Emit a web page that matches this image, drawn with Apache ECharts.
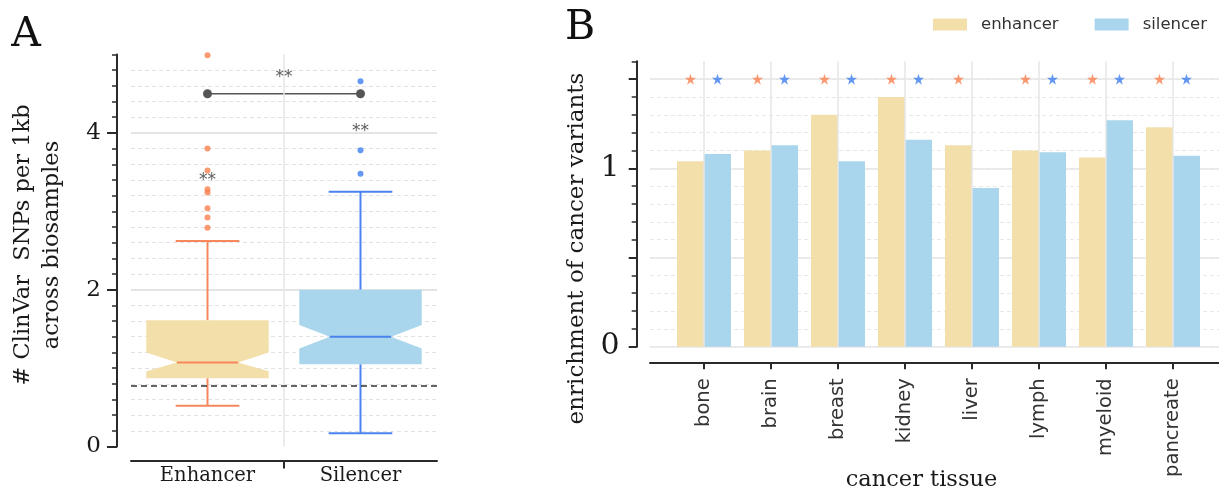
<!DOCTYPE html>
<html><head><meta charset="utf-8">
<script src="https://cdn.jsdelivr.net/npm/echarts@6/dist/echarts.min.js"></script>
<style>html,body{margin:0;padding:0;background:#fff}#c{width:1219px;height:491px}</style>
</head><body><div id="c"></div>
<script>
// ---------- Panel A data ----------
const boxCategories = ['Enhancer', 'Silencer'];
// [whiskerLow, q1, notchLow, median, notchHigh, q3, whiskerHigh]
const enhancerBox = [0.52, 0.87, 0.96, 1.07, 1.20, 1.61, 2.62];
const silencerBox = [0.17, 1.05, 1.25, 1.40, 1.55, 2.00, 3.25];
const enhancerOutliers = [2.79, 2.92, 3.04, 3.24, 3.28, 3.52, 3.80, 4.99];
const silencerOutliers = [3.48, 3.78, 4.66];
const baselineValue = 0.77;
const bracketValue = 4.5;
const sigTexts = ['**', '**', '**'];
const sigX = [0.5, 1.5, 1.0];
const sigLevels = [3.44, 4.07, 4.76];
const boxTicks = [0, 2, 4];

// ---------- Panel B data ----------
const tissues = ['bone', 'brain', 'breast', 'kidney', 'liver', 'lymph', 'myeloid', 'pancreate'];
const enhancerEnrich = [1.04, 1.10, 1.30, 1.40, 1.13, 1.10, 1.06, 1.23];
const silencerEnrich = [1.08, 1.13, 1.04, 1.16, 0.89, 1.09, 1.27, 1.07];
const enhancerSig = [1, 1, 1, 1, 1, 1, 1, 1];
const silencerSig = [1, 1, 1, 1, 0, 1, 1, 1];
const starLevel = 1.5;
const enrichMajorTicks = [0, 0.5, 1, 1.5];
const enrichLabels = [0, 1];

// ---------- styles ----------
const SERIF = 'DejaVu Serif';
const SANS = 'DejaVu Sans';
const enhFill = '#F2DFAA', silFill = '#A9D6EC';
const enhLine = '#F8875C', silLine = '#4A82EE';
const enhDot = '#FA7F4E', silDot = '#3F7EF0';
const axisCol = '#2a2a2a';
const STAR = 'path://M50,2 L61.2,36.6 L97.6,36.6 L68.2,58 L79.4,92.6 L50,71.2 L20.6,92.6 L31.8,58 L2.4,36.6 L38.8,36.6 Z';

const chart = echarts.init(document.getElementById('c'));

const boxData = [[0.5].concat(enhancerBox), [1.5].concat(silencerBox)];

const option = {
  animation: false,
  backgroundColor: '#fff',
  grid: [
    { left: 131, top: 54.5, width: 306, height: 392 },
    { left: 650, top: 61.3, right: 0, height: 285.4 }
  ],
  legend: {
    data: ['enhancer', 'silencer'], left: 933, top: 16, padding: 0,
    itemWidth: 34, itemHeight: 12, itemGap: 36, icon: 'rect', selectedMode: false,
    textStyle: { fontFamily: SANS, fontSize: 16.5, color: '#333', padding: [0, 0, 0, 9] }
  },
  xAxis: [
    { gridIndex: 0, type: 'value', min: 0, max: 2, interval: 1, offset: 14,
      axisLine: { show: true, onZero: false, lineStyle: { color: axisCol, width: 2 } },
      axisTick: { show: true, customValues: [1], length: 8, lineStyle: { color: axisCol, width: 2 } },
      axisLabel: { customValues: [0.5, 1.5], formatter: v => boxCategories[Math.floor(v)] || '',
        fontFamily: SERIF, fontSize: 19.5, color: '#1a1a1a', margin: 5 },
      splitLine: { show: false } },
    { gridIndex: 1, type: 'value', min: -0.806, max: 7.687, offset: 15.6,
      axisLine: { show: true, onZero: false, lineStyle: { color: axisCol, width: 2 } },
      axisTick: { show: true, customValues: tissues.map((t, i) => i), length: 7, lineStyle: { color: axisCol, width: 2 } },
      axisLabel: { customValues: tissues.map((t, i) => i), formatter: v => tissues[v] || '', rotate: 90,
        fontFamily: SANS, fontSize: 19.5, color: '#333', margin: 16 },
      splitLine: { show: false } }
  ],
  yAxis: [
    { gridIndex: 0, type: 'value', position: 'left', min: 0, max: 5, interval: 0.2, offset: 14,
      axisLine: { show: true, onZero: false, lineStyle: { color: axisCol, width: 2 } },
      axisTick: { show: true, length: 5, lineStyle: { color: axisCol, width: 1.5 } },
      axisLabel: { show: false },
      splitLine: { show: true, showMinLine: false, showMaxLine: false, lineStyle: { color: '#e2e2e2', width: 1, type: [4, 3] } } },
    { gridIndex: 0, type: 'value', position: 'left', min: 0, max: 5, interval: 2, offset: 14,
      axisLine: { show: false, onZero: false },
      axisTick: { show: true, customValues: boxTicks, length: 10, lineStyle: { color: axisCol, width: 2 } },
      axisLabel: { customValues: boxTicks, formatter: v => boxTicks.includes(v) ? String(v) : '',
        fontFamily: SERIF, fontSize: 23, color: '#1a1a1a', margin: 16 },
      splitLine: { show: false } },
    { gridIndex: 0, type: 'value', position: 'left', min: 0, max: 5, interval: 2,
      axisLine: { show: false, onZero: false }, axisTick: { show: false }, axisLabel: { show: false },
      splitLine: { show: true, showMinLine: false, showMaxLine: false, lineStyle: { color: '#e4e4e4', width: 2 } } },
    { gridIndex: 1, type: 'value', position: 'left', min: 0, max: 1.6, interval: 0.1, offset: 13.3,
      axisLine: { show: true, onZero: false, lineStyle: { color: axisCol, width: 2 } },
      axisTick: { show: true, length: 5, lineStyle: { color: axisCol, width: 1.5 } },
      axisLabel: { show: false },
      splitLine: { show: true, showMinLine: true, showMaxLine: false, lineStyle: { color: '#e8e8e8', width: 1, type: [4, 3] } } },
    { gridIndex: 1, type: 'value', position: 'left', min: 0, max: 1.6, interval: 0.5, offset: 13.3,
      axisLine: { show: false, onZero: false },
      axisTick: { show: true, customValues: enrichMajorTicks, length: 8, lineStyle: { color: axisCol, width: 2 } },
      axisLabel: { customValues: enrichLabels, formatter: v => enrichLabels.includes(v) ? String(v) : '',
        fontFamily: SERIF, fontSize: 30, color: '#1a1a1a', margin: 17 },
      splitLine: { show: false } },
    { gridIndex: 1, type: 'value', position: 'left', min: 0, max: 1.6, interval: 0.5,
      axisLine: { show: false, onZero: false }, axisTick: { show: false }, axisLabel: { show: false },
      splitLine: { show: true, showMinLine: true, showMaxLine: false, lineStyle: { color: '#e6e6e6', width: 1.5 } } }
  ],
  series: [
    // ----- Panel A -----
    { name: 'refA', type: 'line', xAxisIndex: 0, yAxisIndex: 0, data: [], z: 1, silent: true,
      markLine: { silent: true, symbol: 'none', label: { show: false },
        data: [
          { xAxis: 1, lineStyle: { color: '#e6e6e6', width: 1.5, type: 'solid' } },
          { yAxis: baselineValue, lineStyle: { color: '#333', width: 1.5, type: [6, 4] } }
        ] } },
    { name: 'boxes', type: 'custom', xAxisIndex: 0, yAxisIndex: 0, z: 3,
      encode: { x: 0, y: [1, 2, 3, 4, 5, 6, 7] },
      data: boxData,
      renderItem: (params, api) => {
        const x = api.value(0);
        const wl = api.value(1), q1 = api.value(2), nl = api.value(3), med = api.value(4),
              nh = api.value(5), q3 = api.value(6), wh = api.value(7);
        const half = api.size([0.8, 0])[0] / 2;
        const nHalf = half * 0.5, cHalf = half * 0.52;
        const cx = api.coord([x, med])[0];
        const Y = v => api.coord([x, v])[1];
        const fill = params.dataIndex === 0 ? enhFill : silFill;
        const stroke = params.dataIndex === 0 ? enhLine : silLine;
        const ls = { stroke: stroke, lineWidth: 2 };
        const pts = [[cx - half, Y(q3)], [cx + half, Y(q3)], [cx + half, Y(nh)], [cx + nHalf, Y(med)],
          [cx + half, Y(nl)], [cx + half, Y(q1)], [cx - half, Y(q1)], [cx - half, Y(nl)],
          [cx - nHalf, Y(med)], [cx - half, Y(nh)]];
        return { type: 'group', children: [
          { type: 'line', shape: { x1: cx, y1: Y(q3), x2: cx, y2: Y(wh) }, style: ls },
          { type: 'line', shape: { x1: cx - cHalf, y1: Y(wh), x2: cx + cHalf, y2: Y(wh) }, style: ls },
          { type: 'line', shape: { x1: cx, y1: Y(q1), x2: cx, y2: Y(wl) }, style: ls },
          { type: 'line', shape: { x1: cx - cHalf, y1: Y(wl), x2: cx + cHalf, y2: Y(wl) }, style: ls },
          { type: 'polygon', shape: { points: pts }, style: { fill: fill } },
          { type: 'line', shape: { x1: cx - nHalf, y1: Y(med), x2: cx + nHalf, y2: Y(med) }, style: ls }
        ] };
      } },
    { name: 'enhOut', type: 'scatter', xAxisIndex: 0, yAxisIndex: 0, z: 4, symbolSize: 6,
      itemStyle: { color: enhDot }, data: enhancerOutliers.map(v => [0.5, v]) },
    { name: 'silOut', type: 'scatter', xAxisIndex: 0, yAxisIndex: 0, z: 4, symbolSize: 6,
      itemStyle: { color: silDot }, data: silencerOutliers.map(v => [1.5, v]) },
    { name: 'bracket', type: 'line', xAxisIndex: 0, yAxisIndex: 0, z: 4, symbol: 'circle', symbolSize: 9,
      lineStyle: { color: '#555', width: 1.5 }, itemStyle: { color: '#555' },
      data: [[0.5, bracketValue], [1.5, bracketValue]] },
    { name: 'sig', type: 'scatter', xAxisIndex: 0, yAxisIndex: 0, z: 6, symbolSize: 2,
      itemStyle: { color: 'rgba(0,0,0,0)' },
      label: { show: true, position: 'inside', formatter: p => sigTexts[p.dataIndex], offset: [0, 4],
        fontFamily: SANS, fontSize: 17, color: '#333' },
      data: sigX.map((x, i) => [x, sigLevels[i]]) },
    // ----- Panel B -----
    { name: 'refB', type: 'line', xAxisIndex: 1, yAxisIndex: 3, data: [], z: 1, silent: true,
      markLine: { silent: true, symbol: 'none', label: { show: false },
        lineStyle: { color: '#e6e6e6', width: 1.5, type: 'solid' },
        data: tissues.map((t, i) => ({ xAxis: i })) } },
    { name: 'enhancer', type: 'bar', xAxisIndex: 1, yAxisIndex: 3, z: 3, barWidth: 27, barGap: '0%',
      itemStyle: { color: enhFill }, data: enhancerEnrich.map((v, i) => [i, v]) },
    { name: 'silencer', type: 'bar', xAxisIndex: 1, yAxisIndex: 3, z: 3, barWidth: 27, barGap: '0%',
      itemStyle: { color: silFill }, data: silencerEnrich.map((v, i) => [i, v]) },
    { name: 'enhStar', type: 'scatter', xAxisIndex: 1, yAxisIndex: 3, z: 5, symbol: STAR, symbolSize: 11,
      symbolOffset: [-13.5, 0], itemStyle: { color: enhDot },
      data: enhancerSig.map((s, i) => s ? [i, starLevel] : null).filter(d => d) },
    { name: 'silStar', type: 'scatter', xAxisIndex: 1, yAxisIndex: 3, z: 5, symbol: STAR, symbolSize: 11,
      symbolOffset: [13.5, 0], itemStyle: { color: silDot },
      data: silencerSig.map((s, i) => s ? [i, starLevel] : null).filter(d => d) }
  ],
  graphic: [
    { type: 'text', x: 26, y: 35, style: { text: 'A', font: '41px "DejaVu Serif"', fill: '#111', align: 'center', verticalAlign: 'middle' } },
    { type: 'text', x: 580, y: 28, style: { text: 'B', font: '41px "DejaVu Serif"', fill: '#111', align: 'center', verticalAlign: 'middle' } },
    { type: 'text', x: 23, y: 245, rotation: Math.PI / 2, style: { text: '# ClinVar  SNPs per 1kb', font: '22.5px "DejaVu Serif"', fill: '#1a1a1a', align: 'center', verticalAlign: 'middle' } },
    { type: 'text', x: 52, y: 245, rotation: Math.PI / 2, style: { text: 'across biosamples', font: '22.5px "DejaVu Serif"', fill: '#1a1a1a', align: 'center', verticalAlign: 'middle' } },
    { type: 'text', x: 577, y: 248.5, rotation: Math.PI / 2, style: { text: 'enrichment of cancer variants', font: '23px "DejaVu Serif"', fill: '#1a1a1a', align: 'center', verticalAlign: 'middle' } },
    { type: 'text', x: 921.5, y: 480.5, style: { text: 'cancer tissue', font: '22.5px "DejaVu Serif"', fill: '#1a1a1a', align: 'center', verticalAlign: 'middle' } }
  ]
};
chart.setOption(option);
</script>
</body></html>
